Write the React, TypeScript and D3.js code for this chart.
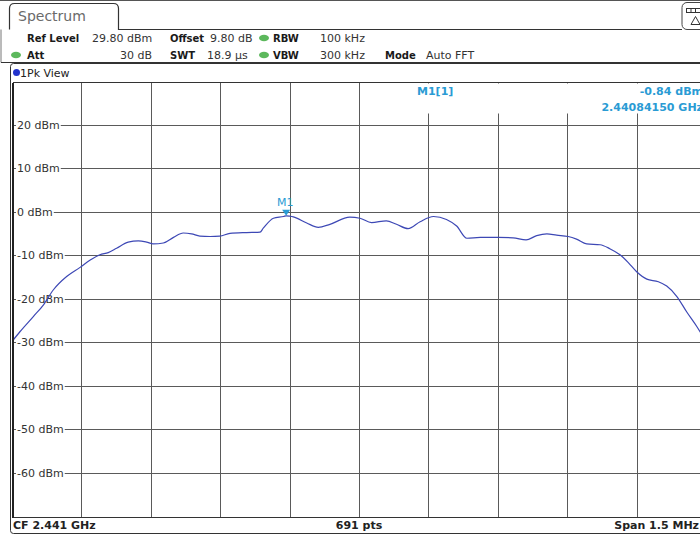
import React, { useEffect, useRef } from 'react';
import * as d3 from 'd3';

// ---- data ----
const centerGHz = 2.441;
const spanMHz = 1.5;
const sweepPoints = 691;
const refLevelDbm = 29.8;
const rangeDb = 100;
const startMHz = centerGHz * 1000 - spanMHz / 2;

const freqOffsetKHz = [0, 16, 45, 67, 88, 117, 146, 168, 189, 207, 225, 250, 272, 290, 304, 326, 348, 369, 387, 405, 427, 448, 470, 506, 535, 542, 564, 586, 591.5, 600, 607, 636, 661, 686, 729, 751, 776, 808, 830, 855, 881, 910, 938, 960, 982, 1011, 1050, 1082, 1110, 1133, 1155, 1176, 1201, 1219, 1241, 1270, 1291, 1313, 1331, 1349, 1371, 1396, 1414, 1436, 1457, 1479, 1500];
const levelDbm = [-29.6, -27.5, -24.0, -21.3, -17.9, -14.8, -12.7, -11.0, -9.8, -9.3, -8.3, -6.9, -6.6, -6.9, -7.3, -7.1, -5.8, -4.8, -5.0, -5.5, -5.6, -5.5, -4.9, -4.7, -4.6, -3.7, -1.4, -1.0, -0.84, -0.95, -1.1, -2.5, -3.5, -2.8, -1.15, -1.4, -2.4, -2.0, -2.8, -3.8, -2.2, -1.0, -1.7, -3.2, -6.0, -5.8, -5.8, -5.9, -6.4, -5.4, -5.0, -5.3, -5.6, -6.2, -7.3, -7.5, -8.4, -9.8, -11.6, -13.7, -15.4, -16.0, -17.0, -19.4, -22.9, -26.3, -30.0];

const levelTicks = [20, 10, 0, -10, -20, -30, -40, -50, -60];
const levelTickLabels = levelTicks.map((v) => `${v} dBm`);
const freqDivisions = 10;

const markerName = 'M1';
const markerFreqGHz = 2.4408415;
const markerLevelDbm = -0.84;

const headerRow1 = [
  ['Ref Level', '29.80 dBm'],
  ['Offset', '9.80 dB'],
  ['RBW', '100 kHz'],
];
const headerRow2 = [
  ['Att', '30 dB'],
  ['SWT', '18.9 µs'],
  ['VBW', '300 kHz'],
  ['Mode', 'Auto FFT'],
];

// ---- layout ----
const W = 700;
const H = 535;
const PL = 12.5;
const PR = 706.5;
const PT = 82.5;
const PB = 517.5;
const FONT = "'DejaVu Sans', Verdana, sans-serif";
const MK = '#2a9bd4';
const TRACE = '#3d48b5';
const GRID = '#5a5a5a';

export default function App() {
  const labelsRef = useRef<SVGGElement>(null);

  const x = d3.scaleLinear().domain([startMHz, startMHz + spanMHz]).range([PL, PR]);
  const y = d3.scaleLinear().domain([refLevelDbm - rangeDb, refLevelDbm]).range([PB, PT]);

  const pts = freqOffsetKHz.map((f, i) => ({ f: startMHz + f / 1000, l: levelDbm[i] }));
  const line = d3
    .line<{ f: number; l: number }>()
    .x((d) => x(d.f))
    .y((d) => y(d.l))
    .curve(d3.curveMonotoneX);

  const vGrid = d3.range(1, freqDivisions).map((i) => startMHz + (i * spanMHz) / freqDivisions);

  useEffect(() => {
    const g = d3.select(labelsRef.current);
    g.selectAll('rect.bg').remove();
    g.selectAll<SVGTextElement, unknown>('text').each(function () {
      const bb = this.getBBox();
      const node = this;
      g.insert('rect', () => node)
        .attr('class', 'bg')
        .attr('x', bb.x - 1)
        .attr('y', bb.y)
        .attr('width', bb.width + 2)
        .attr('height', bb.height)
        .attr('fill', 'white');
    });
  }, []);

  const mx = x(markerFreqGHz * 1000);
  const my = y(markerLevelDbm);

  const row1X = [[27, 92], [170, 210], [273, 320]];
  const row2X = [[27, 152], [170, 207], [273, 320], [385, 426]];

  return (
    <svg
      width={W}
      height={H}
      style={{ position: 'absolute', left: 0, top: 0, display: 'block', background: 'white' }}
      fontFamily={FONT}
    >
      <defs>
        <clipPath id="plotClip">
          <rect x={PL} y={PT} width={PR - PL} height={PB - PT} />
        </clipPath>
      </defs>
      <rect x={0} y={0} width={W} height={H} fill="white" />

      {/* top frame */}
      <line x1={0} x2={W} y1={0.5} y2={0.5} stroke="#555" />
      <path
        d="M9.5,29.5 L9.5,8.5 Q9.5,3.5 14.5,3.5 L113.5,3.5 Q118.5,3.5 118.5,8.5 L118.5,29.5 L682,29.5"
        fill="none"
        stroke="#333"
        strokeWidth={1.2}
      />
      <text x={18} y={21} fontSize={14} fill="#6a6a6a">Spectrum</text>
      <line x1={1} x2={1} y1={29.5} y2={62.5} stroke="#777" />
      {/* icon */}
      <rect x={682} y={2.5} width={30} height={27} rx={5} fill="white" stroke="#444" />
      <rect x={686.5} y={8.5} width={14} height={4} fill="none" stroke="#333" />
      <line x1={691} x2={691} y1={8.5} y2={12.5} stroke="#333" />
      <line x1={695.5} x2={695.5} y1={8.5} y2={12.5} stroke="#333" />
      <path d="M695.5,16.5 L700,24.5 L691,24.5 Z" fill="none" stroke="#333" />

      {/* header info */}
      {headerRow1.map(([k, v], i) => (
        <g key={'r1' + i}>
          <text x={row1X[i][0]} y={42} fontSize={10} fontWeight="bold" fill="#1a1a1a">{k}</text>
          <text x={row1X[i][1]} y={42} fontSize={11} fill="#333">{v}</text>
        </g>
      ))}
      {headerRow2.map(([k, v], i) => (
        <g key={'r2' + i}>
          <text x={row2X[i][0]} y={59} fontSize={10} fontWeight="bold" fill="#1a1a1a">{k}</text>
          <text x={row2X[i][1]} y={59} fontSize={11} fill="#333" textAnchor={i === 0 ? 'end' : 'start'}>{v}</text>
        </g>
      ))}
      <ellipse cx={264} cy={38} rx={5} ry={3.3} fill="#5cb85c" />
      <ellipse cx={16} cy={55} rx={5} ry={3.3} fill="#5cb85c" />
      <ellipse cx={264} cy={55} rx={5} ry={3.3} fill="#5cb85c" />
      <line x1={1} x2={W} y1={62.5} y2={62.5} stroke="#333" />

      {/* 1Pk View box */}
      <rect x={10.5} y={63.5} width={720} height={470} rx={3} fill="none" stroke="#333" />
      <circle cx={16.5} cy={72.5} r={3.5} fill="#2233cc" />
      <text x={20} y={76.5} fontSize={11} fill="#222">1Pk View</text>

      {/* grid */}
      <g shapeRendering="crispEdges">
        {vGrid.map((f, i) => (
          <line key={'v' + i} x1={x(f)} x2={x(f)} y1={PT} y2={PB} stroke={GRID} />
        ))}
        {levelTicks.map((v, i) => (
          <line key={'h' + i} x1={PL} x2={PR} y1={y(v)} y2={y(v)} stroke={GRID} />
        ))}
      </g>

      {/* marker info box */}
      <rect x={400} y={PT + 1} width={PR - 400} height={30} fill="white" />
      <text x={417} y={95} fontSize={11} fontWeight="bold" fill={MK}>{markerName}[1]</text>
      <text x={703} y={95} fontSize={11} fontWeight="bold" fill={MK} textAnchor="end">
        {markerLevelDbm.toFixed(2)} dBm
      </text>
      <text x={703} y={111} fontSize={11} fontWeight="bold" fill={MK} textAnchor="end">
        {markerFreqGHz.toFixed(8)} GHz
      </text>

      {/* level labels */}
      <g ref={labelsRef}>
        {levelTicks.map((v, i) => (
          <text key={'l' + i} x={17} y={y(v)} dy="0.35em" fontSize={11} fill="#333">
            {levelTickLabels[i]}
          </text>
        ))}
      </g>

      {/* trace */}
      <path d={line(pts) || ''} fill="none" stroke={TRACE} strokeWidth={1.2} clipPath="url(#plotClip)" />

      {/* marker */}
      <path d={`M${mx},${my} L${mx - 4},${my - 6} L${mx + 4},${my - 6} Z`} fill={MK} />
      <text x={mx - 1} y={206} fontSize={11} fill={MK} textAnchor="middle">{markerName}</text>

      {/* plot frame */}
      <g shapeRendering="crispEdges">
        <line x1={PL} x2={PR} y1={PT} y2={PT} stroke="#333" />
        <line x1={PL} x2={PR} y1={PB} y2={PB} stroke="#333" />
        <line x1={PL} x2={PL} y1={PT} y2={PB} stroke="#222" strokeWidth={2} />
      </g>

      {/* footer */}
      <text x={13} y={529} fontSize={11} fontWeight="bold" fill="#222">CF {centerGHz.toFixed(3)} GHz</text>
      <text x={359} y={529} fontSize={11} fontWeight="bold" fill="#222" textAnchor="middle">{sweepPoints} pts</text>
      <text x={699} y={529} fontSize={11} fontWeight="bold" fill="#222" textAnchor="end">Span {spanMHz} MHz</text>
    </svg>
  );
}
